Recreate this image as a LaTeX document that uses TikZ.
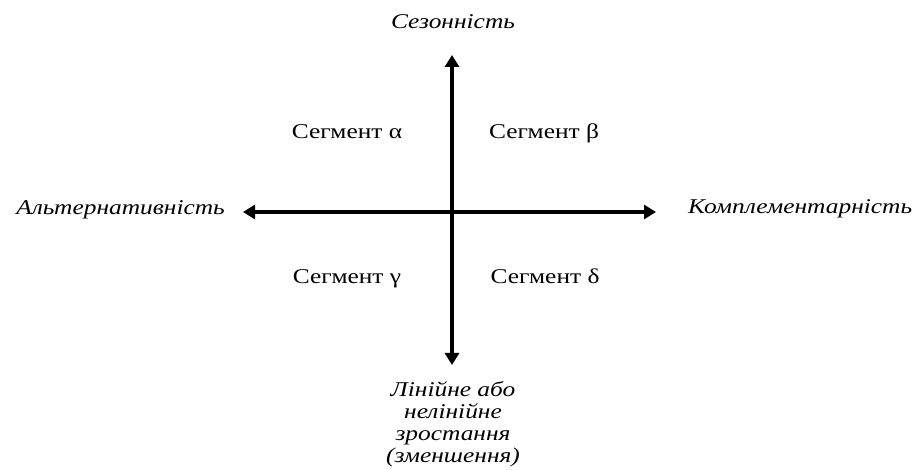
\documentclass[tikz,border=0pt]{standalone}
\usepackage{fontspec}
\setmainfont{Liberation Serif}[FakeStretch=1.21]
\usetikzlibrary{arrows.meta}
\tikzset{
  axis/.style={line width=4pt, {Triangle[length=12pt,width=14pt]}-{Triangle[length=12pt,width=14pt]}},
  axlabel/.style={font=\fontsize{21}{22}\selectfont\itshape, inner sep=0pt},
  seglabel/.style={font=\fontsize{21}{22}\selectfont, inner sep=0pt, anchor=base},
}
\begin{document}
\begin{tikzpicture}[x=1pt,y=-1pt]
\useasboundingbox (0,0) rectangle (916,470);
\coordinate (top) at (452,55);
\coordinate (bot) at (452,365);
\coordinate (lft) at (243,212);
\coordinate (rgt) at (656,212);
\draw[axis] (bot) -- (top);
\draw[axis] (lft) -- (rgt);
\node[axlabel, anchor=base] (season) at (453,29) {Сезонність};
\node[axlabel, anchor=base east] (alt) at (225,215) {Альтернативність};
\node[axlabel, anchor=base west] (comp) at (688,214) {Комплементарність};
\node[axlabel, align=center, anchor=north] (lin) at (453,381) {Лінійне або\\нелінійне\\зростання\\(зменшення)};
\node[seglabel] (sa) at (347,139) {Сегмент α};
\node[seglabel] (sb) at (544,139) {Сегмент β};
\node[seglabel] (sg) at (347,284) {Сегмент γ};
\node[seglabel] (sd) at (545,284) {Сегмент δ};
\end{tikzpicture}
\end{document}
